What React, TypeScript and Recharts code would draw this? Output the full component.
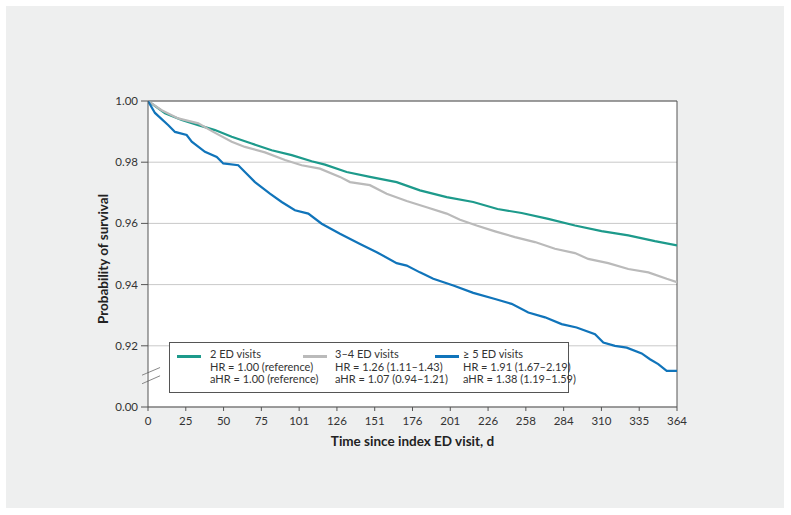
import React from 'react';
import { CartesianGrid, Legend, Line, LineChart, ReferenceLine, XAxis, YAxis } from 'recharts';

const SERIES_NAMES = ['2 ED visits', '3–4 ED visits', '≥ 5 ED visits'];
const SERIES_COLORS = ['#1d9a8b', '#bababa', '#1074ba'];
const HR_LABELS = ['HR = 1.00 (reference)', 'HR = 1.26 (1.11–1.43)', 'HR = 1.91 (1.67–2.19)'];
const AHR_LABELS = ['aHR = 1.00 (reference)', 'aHR = 1.07 (0.94–1.21)', 'aHR = 1.38 (1.19–1.59)'];

const X_TICK_LABELS = ['0', '25', '50', '75', '101', '126', '151', '176', '201', '226', '258', '284', '310', '335', '364'];
const Y_TICKS = [0.9, 0.92, 0.94, 0.96, 0.98, 1.0];
const X_MAX = 364;

// [day, survival probability]
const twoVisits = [
  [0, 1.0], [11.7, 0.996], [23.2, 0.9938], [34.6, 0.9921], [46.1, 0.9905], [57.6, 0.9883],
  [71.3, 0.9861], [85.1, 0.9839], [98.9, 0.9823], [112.6, 0.9803], [121.8, 0.9792], [136.7, 0.9768],
  [152.7, 0.9752], [171.1, 0.9735], [187.1, 0.9708], [205.5, 0.9686], [223.8, 0.967], [240.5, 0.9647],
  [257.1, 0.9634], [275.4, 0.9615], [293.8, 0.9593], [312.1, 0.9575], [330.5, 0.9561], [348.8, 0.9542],
  [364, 0.9528],
];

const threeFourVisits = [
  [0, 1.0], [9.4, 0.997], [20.8, 0.9943], [34.6, 0.9927], [44.9, 0.9899], [57.6, 0.9867],
  [66.7, 0.985], [80.5, 0.9832], [94.3, 0.9807], [105.7, 0.979], [118.3, 0.9779], [132.1, 0.9752],
  [139, 0.9735], [152.7, 0.9725], [164.2, 0.9697], [178, 0.9673], [191.7, 0.9653], [205.5, 0.9632],
  [214.7, 0.9612], [226.1, 0.9593], [238.8, 0.9574], [252.5, 0.9555], [266.3, 0.9539], [280, 0.9517],
  [293.8, 0.9503], [302.9, 0.9484], [316.7, 0.947], [330.5, 0.9451], [344.3, 0.944], [356.9, 0.9419],
  [364, 0.9408],
];

const fivePlusVisits = [
  [0, 1.0], [4.8, 0.9961], [14, 0.9921], [18.6, 0.9899], [26.6, 0.9889], [30.1, 0.9867],
  [39.2, 0.9834], [47.3, 0.9817], [51.8, 0.9796], [62.1, 0.979], [66.7, 0.9768], [73.6, 0.9735],
  [83.9, 0.9697], [92, 0.967], [101.1, 0.9643], [110.3, 0.9632], [119.5, 0.9599], [132.1, 0.9566],
  [145.9, 0.9533], [157.4, 0.9506], [171.1, 0.947], [178, 0.9462], [187.1, 0.944], [196.3, 0.9419],
  [210.1, 0.9397], [223.8, 0.9373], [238.8, 0.9353], [250.2, 0.9337], [261.7, 0.9309], [273.2, 0.9293],
  [284.6, 0.9271], [294.9, 0.926], [307.6, 0.9238], [313.3, 0.9211], [321.3, 0.92], [329.4, 0.9194],
  [339.7, 0.9175], [345.4, 0.9156], [351.1, 0.914], [356.9, 0.9118], [364, 0.9118],
];

const toPoints = (rows: number[][]) => rows.map(([day, surv]) => ({ day, surv }));
const seriesData = [twoVisits, threeFourVisits, fivePlusVisits].map(toPoints);

const xTicks = X_TICK_LABELS.map((_, i) => (i * X_MAX) / (X_TICK_LABELS.length - 1));
// the axis is broken between 0.92 and 0.00, so the bottom tick stands for 0.00
const formatY = (v: number) => (v < 0.91 ? '0.00' : v.toFixed(2));
const BREAK = 0.91;

const AXIS = '#555';
const FONT = 'Lato, "Noto Sans", sans-serif';
const SWATCH_LEFT = [7, 133, 265];
const TEXT_LEFT = [40, 165, 293];

const renderLegend = (props: any) => {
  const payload = props.payload || [];
  return (
    <div
      style={{
        position: 'relative',
        boxSizing: 'border-box',
        width: 400,
        height: 51,
        border: `1px solid ${AXIS}`,
        background: '#fff',
        fontFamily: FONT,
        fontSize: 11,
        color: '#333',
      }}
    >
      {payload.map((entry: any) => {
        const i = SERIES_NAMES.indexOf(entry.value);
        return (
          <React.Fragment key={entry.value}>
            <div
              style={{
                position: 'absolute',
                left: SWATCH_LEFT[i],
                top: 11.5,
                width: 24,
                height: 3,
                background: entry.color,
              }}
            />
            <div style={{ position: 'absolute', left: TEXT_LEFT[i], top: 5, lineHeight: '12.5px', whiteSpace: 'nowrap' }}>
              <div>{entry.value}</div>
              <div>{HR_LABELS[i]}</div>
              <div>{AHR_LABELS[i]}</div>
            </div>
          </React.Fragment>
        );
      })}
    </div>
  );
};

export default function App() {
  return (
    <div style={{ position: 'absolute', left: 0, top: 0, width: 791, height: 515, background: '#fff' }}>
      <div style={{ position: 'absolute', left: 6, top: 6, width: 778, height: 502, background: '#eeefef' }} />
      <div style={{ position: 'absolute', left: 0, top: 0 }}>
        <LineChart
          width={791}
          height={515}
          margin={{ top: 101, right: 114, bottom: 68, left: 58 }}
          style={{ fontFamily: FONT }}
        >
          <CartesianGrid horizontal vertical={false} stroke="#c9c9c9" fill="#fff" />
          <XAxis
            type="number"
            dataKey="day"
            domain={[0, X_MAX]}
            ticks={xTicks}
            tickFormatter={(_v: number, i: number) => X_TICK_LABELS[i]}
            height={40}
            tickSize={4}
            tickMargin={6}
            stroke={AXIS}
            tick={{ fontSize: 11.5, fill: '#333' }}
            allowDataOverflow
            label={{
              value: 'Time since index ED visit, d',
              position: 'insideBottom',
              offset: 1,
              style: { fontSize: 13.5, fontWeight: 700, fill: '#222' },
            }}
          />
          <YAxis
            type="number"
            dataKey="surv"
            domain={[0.9, 1.0]}
            ticks={Y_TICKS}
            tickFormatter={formatY}
            width={90}
            tickSize={7}
            tickMargin={3}
            stroke={AXIS}
            tick={{ fontSize: 11.5, fill: '#333' }}
            allowDataOverflow
            label={{
              value: 'Probability of survival',
              angle: -90,
              position: 'center',
              dy: 5,
              style: { fontSize: 13.5, fontWeight: 700, fill: '#222' },
            }}
          />
          <ReferenceLine y={1} stroke={AXIS} />
          <ReferenceLine x={X_MAX} stroke={AXIS} />
          <ReferenceLine
            ifOverflow="visible"
            segment={[{ x: 0, y: BREAK - 0.0014 }, { x: 0, y: BREAK + 0.0012 }]}
            stroke="#fff"
            strokeWidth={3}
          />
          <ReferenceLine
            ifOverflow="visible"
            segment={[{ x: -4.1, y: BREAK + 0.0004 }, { x: 8.3, y: BREAK + 0.0029 }]}
            stroke="#888"
          />
          <ReferenceLine
            ifOverflow="visible"
            segment={[{ x: -4.1, y: BREAK - 0.0024 }, { x: 8.3, y: BREAK + 0.0002 }]}
            stroke="#888"
          />
          {seriesData.map((points, i) => (
            <Line
              key={SERIES_NAMES[i]}
              data={points}
              dataKey="surv"
              name={SERIES_NAMES[i]}
              type="linear"
              stroke={SERIES_COLORS[i]}
              strokeWidth={2.2}
              dot={false}
              activeDot={false}
              isAnimationActive={false}
            />
          ))}
          <Legend
            layout="horizontal"
            verticalAlign="middle"
            align="center"
            width={400}
            height={51}
            wrapperStyle={{ left: 169, top: 342, width: 400, height: 51 }}
            content={renderLegend}
          />
        </LineChart>
      </div>
    </div>
  );
}
